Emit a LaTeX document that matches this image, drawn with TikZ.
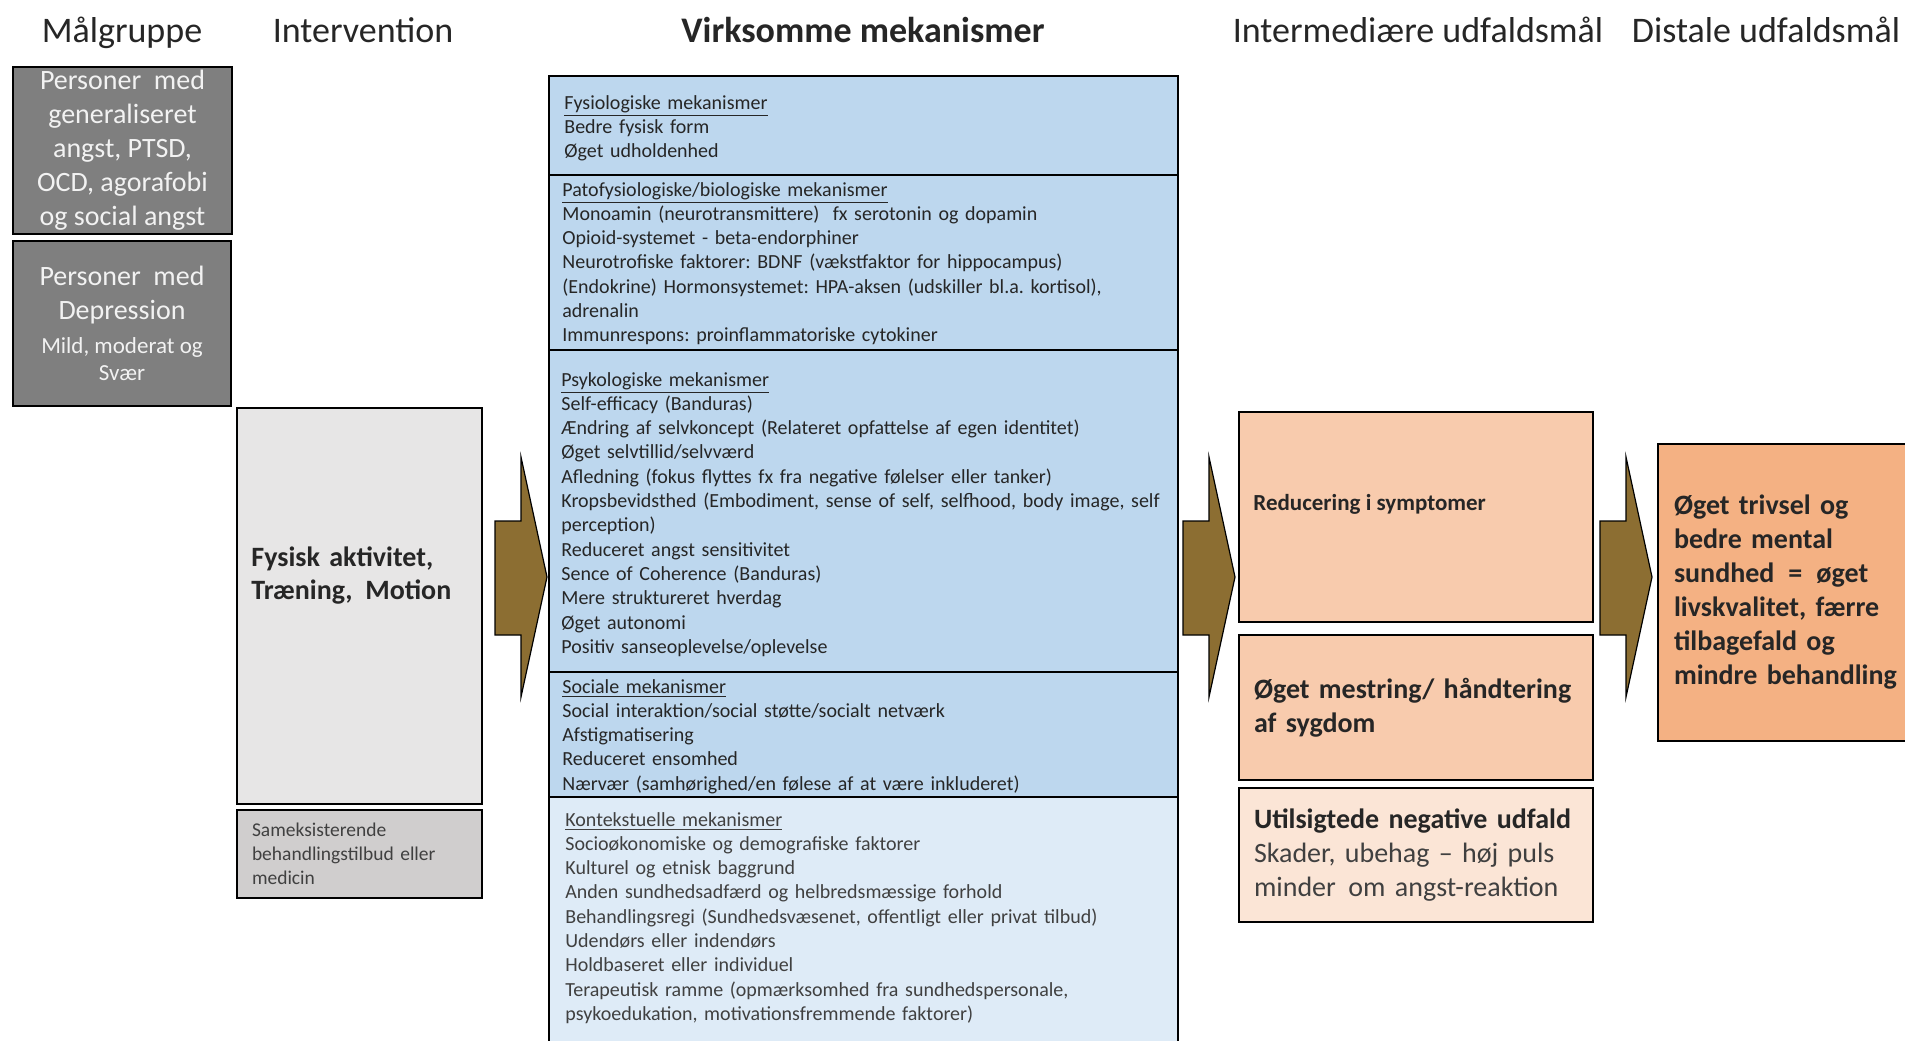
\documentclass[tikz,border=0pt]{standalone}
\usepackage{fontspec}
\setmainfont{Carlito}
\usetikzlibrary{positioning}
\frenchspacing

\definecolor{grpgray}{HTML}{7F7F7F}
\definecolor{grptext}{HTML}{F2F2F2}
\definecolor{intgray}{HTML}{E7E6E6}
\definecolor{samgray}{HTML}{D0CECE}
\definecolor{mechblue}{HTML}{BDD7EE}
\definecolor{konblue}{HTML}{DEEBF7}
\definecolor{outpeach}{HTML}{F8CBAD}
\definecolor{outlight}{HTML}{FBE5D6}
\definecolor{outdark}{HTML}{F4B183}
\definecolor{arrbrown}{RGB}{140,110,50}
\definecolor{txtdark}{HTML}{262626}
\definecolor{txtgray}{HTML}{404040}

\newcommand{\titlefont}{\fontsize{18}{22}\selectfont}
\newcommand{\mechfont}{\fontsize{10}{12.15}\selectfont}
\newcommand{\boxfont}{\fontsize{14}{17}\selectfont}

\tikzset{
    boxline/.style={draw=black, line width=1pt},
    title/.style={anchor=base, font=\titlefont, text=txtdark},
    grpbox/.style={boxline, fill=grpgray, text=grptext, align=center, font=\boxfont, inner sep=0pt},
    mechbox/.style={boxline, fill=mechblue, anchor=north west, inner sep=0pt},
    mechtext/.style={anchor=base west, inner sep=0pt, text width=310pt, align=left, font=\mechfont, text=txtdark},
    outbox/.style={boxline, fill=outpeach, anchor=north west, inner xsep=7.5pt, inner ysep=0pt, align=left, font=\boxfont\bfseries, text=txtdark},
    arrowfill/.style={draw=black, line width=0.6pt, fill=arrbrown}
}

\newcommand{\blockarrow}[1]{%
    \draw[arrowfill] (#1-52,521) -- (#1-26,521) -- (#1-26,457) -- (#1,577) -- (#1-26,697) -- (#1-26,635) -- (#1-52,635) -- cycle;}

\begin{document}
\begin{tikzpicture}[x=0.5pt, y=-0.5pt]
    \useasboundingbox[fill=white] (0,0) rectangle (1905,1040);

    % column titles
    \node[title] (ttlgrp) at (122,42) {Målgruppe};
    \node[title] (ttlint) at (363,42) {Intervention};
    \node[title] (ttlmech) at (863,42) {\bfseries Virksomme mekanismer};
    \node[title] (ttlmid) at (1418,42) {Intermediære udfaldsmål};
    \node[title] (ttldist) at (1766,42) {Distale udfaldsmål};

    % target groups
    \node[grpbox, minimum width=109.5pt, minimum height=83.5pt] (anx) at (122.5,150.5)
        {Personer\ \ med\\generaliseret\\angst, PTSD,\\OCD, agorafobi\\og social angst};
    \node[grpbox, minimum width=109pt, minimum height=82.5pt] (dep) at (122,323.5)
        {Personer\ \ med\\Depression\\{\fontsize{11.5}{14}\selectfont Mild, moderat og}\\[-3.5pt]{\fontsize{11.5}{14}\selectfont Svær}};

    % intervention
    \node[boxline, fill=intgray, anchor=north west, minimum width=122.5pt, minimum height=198pt] (interv) at (236,407) {};
    \node[anchor=base west, inner sep=0pt, text width=110pt, align=left, font=\fontsize{14}{16.5}\selectfont\bfseries, text=txtdark] (intervtxt) at (251,566)
        {Fysisk aktivitet,\\Træning,\hspace{0.45em}Motion};
    \node[boxline, fill=samgray, anchor=north west, minimum height=44pt, inner xsep=7.5pt, inner ysep=0pt, text width=107.5pt, align=left,
        font=\fontsize{9.75}{12}\selectfont, text=txtgray] (samek) at (236,809)
        {Sameksisterende\\behandlingstilbud eller\\medicin};

    % mechanisms
    \node[mechbox, minimum width=314.5pt, minimum height=49.5pt] (fysio) at (548,75) {};
    \node[mechbox, minimum width=314.5pt, minimum height=87.5pt] (pato) at (548,174) {};
    \node[mechbox, minimum width=314.5pt, minimum height=161pt] (psyk) at (548,349) {};
    \node[mechbox, minimum width=314.5pt, minimum height=62.5pt] (social) at (548,671) {};
    \node[mechbox, fill=konblue, minimum width=314.5pt, minimum height=140pt] (kontekst) at (548,796) {};

    \node[mechtext] (fysiotxt) at (564,109)
        {\underline{Fysiologiske mekanismer}\\Bedre fysisk form\\Øget udholdenhed};
    \node[mechtext] (patotxt) at (562,196)
        {\underline{Patofysiologiske/biologiske mekanismer}\\
        Monoamin (neurotransmittere)\ \ fx serotonin og dopamin\\
        Opioid-systemet - beta-endorphiner\\
        Neurotrofiske faktorer: BDNF (vækstfaktor for hippocampus)\\
        (Endokrine) Hormonsystemet: HPA-aksen (udskiller bl.a. kortisol),\\
        adrenalin\\
        Immunrespons: proinflammatoriske cytokiner};
    \node[mechtext] (psyktxt) at (561,386)
        {\underline{Psykologiske mekanismer}\\
        Self-efficacy (Banduras)\\
        Ændring af selvkoncept (Relateret opfattelse af egen identitet)\\
        Øget selvtillid/selvværd\\
        Afledning (fokus flyttes fx fra negative følelser eller tanker)\\
        Kropsbevidsthed (Embodiment, sense of self, selfhood, body image, self\\
        perception)\\
        Reduceret angst sensitivitet\\
        Sence of Coherence (Banduras)\\
        Mere struktureret hverdag\\
        Øget autonomi\\
        Positiv sanseoplevelse/oplevelse};
    \node[mechtext] (socialtxt) at (562,693)
        {\underline{Sociale mekanismer}\\
        Social interaktion/social støtte/socialt netværk\\
        Afstigmatisering\\
        Reduceret ensomhed\\
        Nærvær (samhørighed/en følese af at være inkluderet)};
    \node[mechtext, text=txtgray] (kontxt) at (565,826)
        {\underline{Kontekstuelle mekanismer}\\
        Socioøkonomiske og demografiske faktorer\\
        Kulturel og etnisk baggrund\\
        Anden sundhedsadfærd og helbredsmæssige forhold\\
        Behandlingsregi (Sundhedsvæsenet, offentligt eller privat tilbud)\\
        Udendørs eller indendørs\\
        Holdbaseret eller individuel\\
        Terapeutisk ramme (opmærksomhed fra sundhedspersonale,\\
        psykoedukation, motivationsfremmende faktorer)};

    % outcomes
    \node[outbox, minimum width=177pt, minimum height=105pt] (reduc) at (1238,411) {};
    \node[anchor=base west, inner sep=0pt, font=\fontsize{11.5}{14}\selectfont\bfseries, text=txtdark] (reductxt) at (1253,510)
        {Reducering i symptomer};
    \node[outbox, text width=162pt, minimum height=72.5pt] (mestring) at (1238,634)
        {Øget mestring/ håndtering\\af sygdom};
    \node[outbox, fill=outlight, text width=162pt, minimum height=67pt] (utils) at (1238,787)
        {Utilsigtede negative udfald\\{\mdseries\color{txtgray}Skader, ubehag – høj puls\\minder\hspace{0.45em}om angst-reaktion}};
    \node[outbox, fill=outdark, inner xsep=8pt, text width=140pt, minimum height=148.5pt] (distal) at (1657,443)
        {Øget trivsel og\\bedre mental\\sundhed \,=\, øget\\livskvalitet, færre\\tilbagefald og\\mindre behandling};

    % block arrows
    \blockarrow{547}
    \blockarrow{1235}
    \blockarrow{1652}
\end{tikzpicture}
\end{document}
